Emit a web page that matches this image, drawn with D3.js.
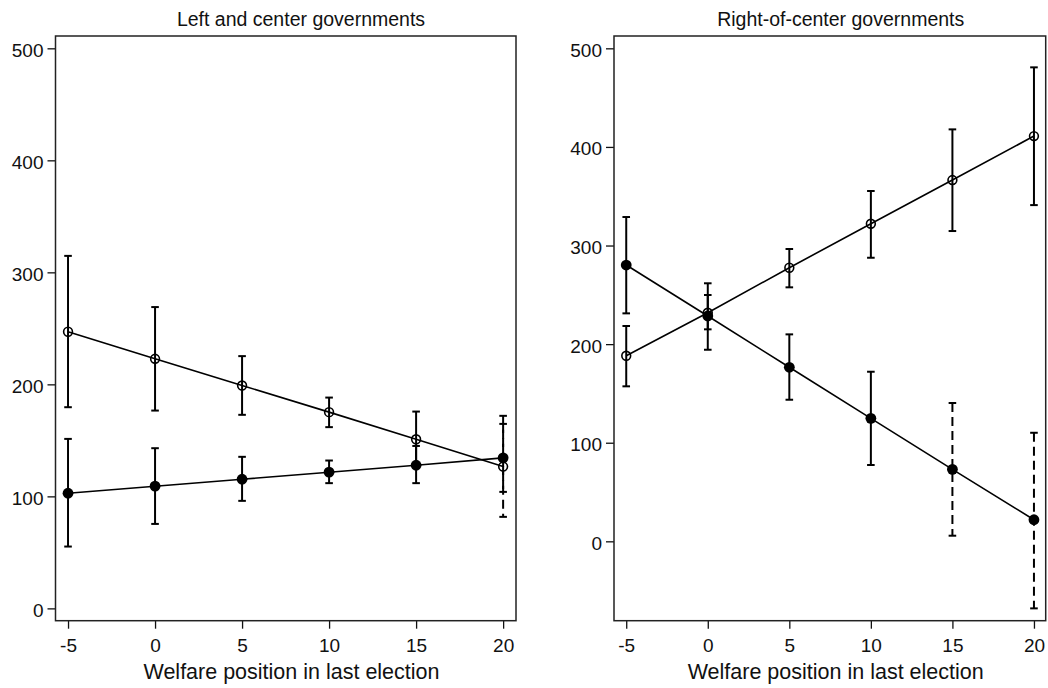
<!DOCTYPE html>
<html>
<head>
<meta charset="utf-8">
<script src="https://cdn.jsdelivr.net/npm/d3@7"></script>
<style>
  body { margin: 0; background: #fff; }
  svg { display: block; font-family: "Liberation Sans", Arial, sans-serif; }
  .tick line { stroke: #111; stroke-width: 1.3; }
  .tick text { fill: #111; font-size: 19px; }
</style>
</head>
<body>
<svg id="chart" width="1048" height="688"></svg>
<script>
// welfare position (x axis)
var xVals = [-5, 0, 5, 10, 15, 20];
var xTicks = [-5, 0, 5, 10, 15, 20];
var yTicks = [0, 100, 200, 300, 400, 500];

// left and center governments
var leftOpenEst = [247, 222.8, 199, 175.2, 151, 126.6];
var leftOpenLo  = [179.6, 176.6, 172.8, 161.8, 126.5, 81.7];
var leftOpenHi  = [314.7, 269, 225.2, 188.2, 175.7, 171.9];
var leftOpenDash = [false, false, false, false, false, true];
var leftFillEst = [102.8, 109.1, 115.3, 121.6, 127.8, 134.4];
var leftFillLo  = [55.2, 75.4, 96, 111.8, 111.8, 104];
var leftFillHi  = [151.3, 143, 135.3, 132, 145, 164.7];
var leftFillDash = [false, false, false, false, false, true];

// right-of-center governments
var rightOpenEst = [188.2, 231.8, 277.5, 322.1, 366.4, 411];
var rightOpenLo  = [157.2, 215, 257.6, 287.6, 314.7, 341];
var rightOpenHi  = [218.4, 249.8, 296.5, 355.3, 417.8, 480.7];
var rightOpenDash = [false, false, false, false, false, false];
var rightFillEst = [280.2, 228.5, 176.5, 124.7, 73, 21.9];
var rightFillLo  = [231.2, 194.3, 143.6, 77.4, 5.7, -68];
var rightFillHi  = [328.9, 261.7, 209.9, 172, 140.3, 110.1];
var rightFillDash = [false, false, false, false, true, true];

function series(est, lo, hi, dash, filled) {
    return {
        filled: filled,
        pts: xVals.map(function(x, i) {
            return {x: x, est: est[i], lo: lo[i], hi: hi[i], dash: dash[i]};
        })
    };
}

var panels = [
    {title: "Left and center governments", titleX: 301, labelX: 291.5,
     xr: [55.5, 516], xd: [-5.72, 20.74], yd: [-11, 511],
     series: [series(leftOpenEst, leftOpenLo, leftOpenHi, leftOpenDash, false),
              series(leftFillEst, leftFillLo, leftFillHi, leftFillDash, true)]},
    {title: "Right-of-center governments", titleX: 840.7, labelX: 835.7,
     xr: [614, 1045.7], xd: [-5.75, 20.72], yd: [-80.5, 512.5],
     series: [series(rightOpenEst, rightOpenLo, rightOpenHi, rightOpenDash, false),
              series(rightFillEst, rightFillLo, rightFillHi, rightFillDash, true)]}
];

var svg = d3.select("#chart");
var plotTop = 36, plotBottom = 620.7;
var fmt = function(d){ return String(d); };

panels.forEach(function(p) {
    var x = d3.scaleLinear().domain(p.xd).range(p.xr);
    var y = d3.scaleLinear().domain(p.yd).range([plotBottom, plotTop]);
    var g = svg.append("g");

    // axes
    var ya = g.append("g").attr("transform", "translate(" + p.xr[0] + ",0)")
        .call(d3.axisLeft(y).tickValues(yTicks).tickFormat(fmt).tickSize(8).tickPadding(4));
    ya.select(".domain").remove();
    ya.selectAll(".tick text").attr("dy", "0.42em");
    var xa = g.append("g").attr("transform", "translate(0," + plotBottom + ")")
        .call(d3.axisBottom(x).tickValues(xTicks).tickFormat(fmt).tickSize(8).tickPadding(10));
    xa.select(".domain").remove();

    // frame
    g.append("rect")
        .attr("x", p.xr[0]).attr("y", plotTop)
        .attr("width", p.xr[1] - p.xr[0]).attr("height", plotBottom - plotTop)
        .attr("fill", "none").attr("stroke", "#222").attr("stroke-width", 1.5);

    g.append("text").attr("x", p.titleX).attr("y", 26)
        .attr("text-anchor", "middle").style("font-size", "19.5px").attr("fill", "#111")
        .text(p.title);
    g.append("text").attr("x", p.labelX).attr("y", 679)
        .attr("text-anchor", "middle").style("font-size", "21.5px").attr("fill", "#111")
        .text("Welfare position in last election");

    var line = d3.line().x(function(d){ return x(d.x); }).y(function(d){ return y(d.est); });

    p.series.forEach(function(s) {
        g.append("path").datum(s.pts)
            .attr("d", line)
            .attr("fill", "none").attr("stroke", "#000").attr("stroke-width", 1.6);

        var eb = g.selectAll(null).data(s.pts).enter().append("g");
        eb.append("line")
            .attr("x1", function(d){ return x(d.x); }).attr("x2", function(d){ return x(d.x); })
            .attr("y1", function(d){ return y(d.hi); }).attr("y2", function(d){ return y(d.lo); })
            .attr("stroke", "#000").attr("stroke-width", 2)
            .attr("stroke-dasharray", function(d){ return d.dash ? "9,5" : null; });
        ["hi", "lo"].forEach(function(k) {
            eb.append("line")
                .attr("x1", function(d){ return x(d.x) - 3.8; }).attr("x2", function(d){ return x(d.x) + 3.8; })
                .attr("y1", function(d){ return y(d[k]); }).attr("y2", function(d){ return y(d[k]); })
                .attr("stroke", "#000").attr("stroke-width", 2);
        });
    });

    p.series.forEach(function(s) {
        g.selectAll(null).data(s.pts).enter().append("circle")
            .attr("cx", function(d){ return x(d.x); })
            .attr("cy", function(d){ return y(d.est); })
            .attr("r", s.filled ? 5.4 : 4.4)
            .attr("fill", s.filled ? "#000" : "none")
            .attr("stroke", "#000")
            .attr("stroke-width", s.filled ? 0 : 1.6);
    });
});
</script>
</body>
</html>
